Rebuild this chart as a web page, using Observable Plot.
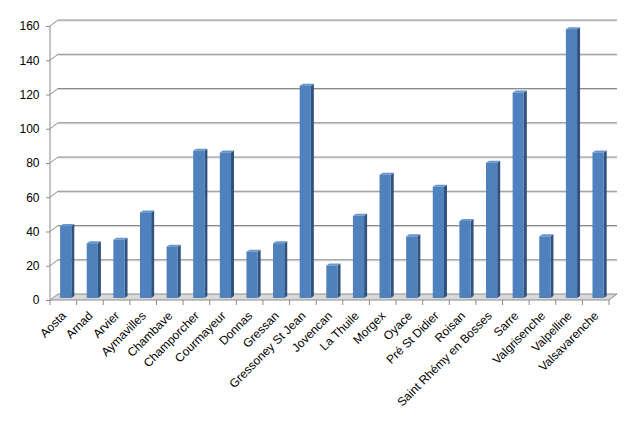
<!DOCTYPE html>
<html><head><meta charset="utf-8">
<script src="https://cdn.jsdelivr.net/npm/d3@7"></script>
<script src="https://cdn.jsdelivr.net/npm/@observablehq/plot@0.6"></script>
<style>body{margin:0;background:#fff}</style>
</head><body><div id="chart"></div>
<script>
const categories = ["Aosta","Arnad","Arvier","Aymavilles","Chambave","Champorcher","Courmayeur","Donnas","Gressan","Gressoney St Jean","Jovencan","La Thuile","Morgex","Oyace","Pré St Didier","Roisan","Saint Rhémy en Bosses","Sarre","Valgrisenche","Valpelline","Valsavarenche"];
const values = [42,32,34,50,30,86,85,27,32,124,19,48,72,36,65,45,79,120,36,157,85];
const yTicks = [0,20,40,60,80,100,120,140,160];

const data = categories.map((c, i) => ({comune: c, valore: values[i]}));

const DX = 8, DY = -6;     // wall depth offset
const BDX = 3, BDY = -2;   // bar depth offset
const BAR_SHIFT = -2;      // bars sit slightly behind front plane

function walls(index, scales, vals, dims) {
  const x = scales.x, y = scales.y;
  const x0 = dims.marginLeft, x1 = dims.width - dims.marginRight;
  const g = d3.create("svg:g");
  const y0 = y(0);
  g.append("polygon")
    .attr("points", [[x0, y0], [x1, y0], [x1 + DX, y0 + DY], [x0 + DX, y0 + DY]].join(" "))
    .attr("fill", "#d9d9d9").attr("stroke", "#8c8c8c").attr("stroke-width", 1);
  yTicks.filter(t => t > 0).forEach(t => {
    const yy = y(t);
    g.append("line").attr("x1", x0 + DX).attr("x2", x1 + DX)
      .attr("y1", yy + DY + 1).attr("y2", yy + DY + 1).attr("stroke", "#d4d4d4");
    g.append("line").attr("x1", x0 + DX).attr("x2", x1 + DX)
      .attr("y1", yy + DY).attr("y2", yy + DY).attr("stroke", "#8a8a8a");
    g.append("line").attr("x1", x0).attr("x2", x0 + DX)
      .attr("y1", yy).attr("y2", yy + DY).attr("stroke", "#8a8a8a");
  });
  g.append("line").attr("x1", x0).attr("x2", x0).attr("y1", y(0)).attr("y2", y(160)).attr("stroke", "#8a8a8a");
  const step = x.step ? x.step() : (x1 - x0) / categories.length;
  for (let i = 0; i <= categories.length; i++) {
    const xx = x0 + i * step;
    g.append("line").attr("x1", xx).attr("x2", xx).attr("y1", y0).attr("y2", y0 + 5).attr("stroke", "#8a8a8a");
  }
  return g.node();
}

function barSides(index, scales, vals, dims) {
  const x = scales.x, y = scales.y;
  const bw = x.bandwidth ? x.bandwidth() : 26.6;
  const g = d3.create("svg:g");
  data.forEach(d => {
    const l = x(d.comune) + bw * 0.38, r = x(d.comune) + bw * 0.80;
    const yt = y(d.valore) + BAR_SHIFT, yb = y(0) + BAR_SHIFT;
    g.append("polygon")
      .attr("points", [[r, yt], [r + BDX, yt + BDY], [r + BDX, yb + BDY], [r, yb]].join(" "))
      .attr("fill", "#30527f");
    g.append("polygon")
      .attr("points", [[l, yt], [l + BDX, yt + BDY], [r + BDX, yt + BDY], [r, yt]].join(" "))
      .attr("fill", "#6a96cf");
  });
  return g.node();
}

const plot = Plot.plot({
  width: 644,
  height: 421,
  marginLeft: 50,
  marginRight: 35,
  marginTop: 26,
  marginBottom: 121,
  style: {fontFamily: "Liberation Sans", fontSize: "12px", color: "#000", background: "#fff"},
  x: {type: "band", domain: categories, padding: 0, round: false, axis: null},
  y: {domain: [0, 160]},
  marks: [
    walls,
    barSides,
    Plot.barY(data, {x: "comune", y: "valore", fill: "#4f81bd", dy: BAR_SHIFT,
      insetLeft: 26.6 * 0.38, insetRight: 26.6 * 0.20}),
    Plot.axisY(yTicks, {label: null, tickSize: 4, tickPadding: 7, stroke: "#8a8a8a", fontSize: 12}),
    Plot.text(categories, {x: d => d, text: d => d, frameAnchor: "bottom", rotate: -45,
      textAnchor: "end", dy: 16, dx: 3, fontSize: 12, fill: "#000"})
  ]
});
document.getElementById("chart").appendChild(plot);
</script>
</body></html>
